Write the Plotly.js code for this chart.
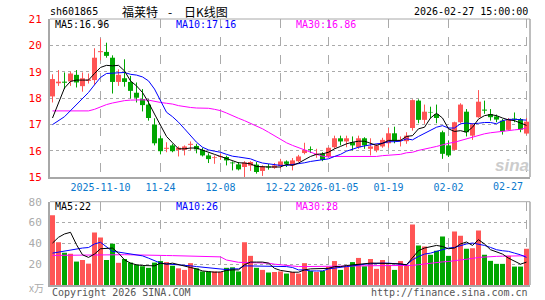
<!DOCTYPE html>
<html><head><meta charset="utf-8">
<script src="https://cdn.plot.ly/plotly-3.0.1.min.js"></script>
<style>body{margin:0;padding:0;background:#fff}#chart{width:545px;height:300px}</style>
</head><body><div id="chart"></div>
<script>
const dates = ['2025-10-29','2025-10-30','2025-10-31','2025-11-03','2025-11-04','2025-11-05','2025-11-06','2025-11-07','2025-11-10','2025-11-11',
'2025-11-12','2025-11-13','2025-11-14','2025-11-17','2025-11-18','2025-11-19','2025-11-20','2025-11-21','2025-11-24','2025-11-25',
'2025-11-26','2025-11-27','2025-11-28','2025-12-01','2025-12-02','2025-12-03','2025-12-04','2025-12-05','2025-12-08','2025-12-09',
'2025-12-10','2025-12-11','2025-12-12','2025-12-15','2025-12-16','2025-12-17','2025-12-18','2025-12-19','2025-12-22','2025-12-23',
'2025-12-24','2025-12-25','2025-12-26','2025-12-29','2025-12-30','2025-12-31','2026-01-05','2026-01-06','2026-01-07','2026-01-08',
'2026-01-09','2026-01-12','2026-01-13','2026-01-14','2026-01-15','2026-01-16','2026-01-19','2026-01-20','2026-01-21','2026-01-22',
'2026-01-23','2026-01-26','2026-01-27','2026-01-28','2026-01-29','2026-01-30','2026-02-02','2026-02-03','2026-02-04','2026-02-05',
'2026-02-06','2026-02-09','2026-02-10','2026-02-11','2026-02-12','2026-02-13','2026-02-24','2026-02-25','2026-02-26','2026-02-27'];

const open = [18.06,18.56,18.62,18.63,18.88,18.45,18.65,18.68,19.74,19.75,
19.53,18.61,18.75,18.61,18.20,17.96,17.75,16.99,16.47,16.07,
16.20,16.03,16.03,16.22,16.18,16.03,15.82,15.72,15.76,15.76,
15.55,15.48,15.38,15.43,15.47,15.23,15.40,15.35,15.42,15.59,
15.44,15.60,15.91,16.06,15.84,15.88,15.78,16.13,16.47,16.35,
16.32,16.13,16.47,16.07,16.01,16.16,16.28,16.66,16.37,16.36,
16.86,17.90,17.17,17.47,17.39,16.70,16.20,16.03,17.08,17.48,
16.57,17.27,17.56,17.39,17.30,17.14,16.79,17.22,17.20,16.65];
const high = [18.90,19.06,18.97,19.00,19.06,18.97,18.93,19.89,20.26,20.10,
19.62,19.09,19.47,18.84,18.59,18.34,17.96,17.23,16.57,16.32,
16.26,16.16,16.20,16.35,16.26,16.11,15.90,15.82,15.88,15.81,
15.59,15.57,15.60,15.60,15.57,15.44,15.50,15.53,15.69,15.63,
15.72,15.84,16.30,16.16,16.07,15.94,16.13,16.57,16.57,16.57,
16.54,16.57,16.51,16.47,16.26,16.49,16.86,16.91,16.54,16.70,
17.95,17.95,17.75,17.67,17.75,16.76,16.39,17.10,17.80,17.58,
17.04,18.30,17.90,17.58,17.37,17.20,17.24,17.45,17.24,17.24];
const low = [17.83,18.46,18.34,18.46,18.40,18.24,18.55,18.49,19.43,19.53,
18.17,18.46,18.43,17.98,17.83,17.49,17.14,16.20,15.86,15.94,
15.94,15.78,15.82,16.01,15.90,15.78,15.53,15.50,15.65,15.44,
15.25,15.25,15.00,15.23,15.13,15.04,15.28,15.31,15.32,15.38,
15.25,15.57,15.86,15.91,15.73,15.60,15.73,16.07,16.20,16.13,
16.01,16.07,16.07,15.82,15.94,16.11,16.11,16.28,16.16,16.26,
16.76,17.04,17.02,17.24,17.04,15.69,15.76,16.01,17.04,16.54,
16.41,17.25,17.40,17.14,17.08,16.61,16.76,17.08,16.70,16.61];
const close = [18.72,18.62,18.58,18.93,18.59,18.75,18.70,19.53,19.78,19.60,
18.61,18.88,18.61,18.27,18.01,17.73,17.24,16.28,15.98,16.11,
15.98,16.11,16.16,16.26,16.05,15.82,15.68,15.75,15.79,15.63,
15.52,15.29,15.55,15.57,15.19,15.40,15.36,15.44,15.59,15.50,
15.63,15.78,16.03,16.03,15.88,15.65,16.11,16.47,16.35,16.47,
16.20,16.47,16.20,16.16,16.20,16.41,16.66,16.39,16.41,16.57,
17.92,17.17,17.48,17.45,17.24,15.88,15.82,17.08,17.75,16.70,
16.99,17.86,17.52,17.27,17.18,16.74,17.19,17.19,16.80,17.10];
const volume = [67,41,31,30,22.5,24,20.5,50.5,45.5,24,
39.5,21.3,25,21.5,19.5,18,16.5,21.5,23,22,
18.5,16,14.5,21,16,13,13,13,12.5,16.5,
17,13,41,28,16.5,14.5,12,12.5,13,11,
12.5,11,21,13.5,12.5,13.5,17.5,23,14.5,18,
22,26,18,25,15.5,24,19.5,14.5,23,19.5,
58,38,37,29,33,46.5,28,51.3,47.4,34.8,
35.2,52.3,29,23.2,20.3,20.3,28,17.7,17.7,34.8];
const ma5 = [17.24,17.83,18.38,18.63,18.68,18.68,18.68,18.93,19.16,19.24,
19.22,19.24,19.03,18.65,18.46,18.21,17.83,17.39,16.95,16.54,
16.30,16.07,16.07,16.10,16.10,16.03,15.94,15.86,15.78,15.69,
15.60,15.54,15.53,15.50,15.40,15.38,15.38,15.38,15.38,15.48,
15.44,15.53,15.65,15.78,15.86,15.88,15.94,16.07,16.16,16.26,
16.32,16.36,16.36,16.28,16.20,16.28,16.39,16.39,16.39,16.54,
16.57,16.83,16.89,17.24,17.42,17.24,16.83,16.73,16.76,16.70,
16.89,17.20,17.33,17.37,17.33,17.24,17.17,17.14,17.04,16.96];
const ma10 = [16.99,17.14,17.29,17.52,17.75,17.96,18.21,18.50,18.78,18.93,
18.94,18.95,18.97,18.90,18.87,18.80,18.65,18.34,17.90,17.46,
17.29,17.08,16.83,16.57,16.32,16.13,16.03,15.98,15.94,15.86,
15.79,15.76,15.73,15.69,15.60,15.53,15.50,15.47,15.44,15.44,
15.47,15.50,15.54,15.59,15.63,15.65,15.69,15.78,15.86,15.98,
16.07,16.13,16.18,16.23,16.26,16.28,16.34,16.34,16.36,16.45,
16.41,16.54,16.66,16.76,16.89,16.95,16.86,16.86,17.02,17.05,
17.02,17.04,17.07,17.07,17.02,17.14,17.19,17.19,17.17,17.16];
const ma30 = [17.51,17.51,17.51,17.51,17.51,17.51,17.51,17.57,17.67,17.75,
17.81,17.86,17.90,17.92,17.93,17.93,17.92,17.87,17.83,17.80,
17.77,17.71,17.67,17.64,17.62,17.62,17.61,17.57,17.52,17.43,
17.32,17.23,17.14,17.04,16.95,16.83,16.70,16.57,16.42,16.30,
16.20,16.11,16.01,15.92,15.86,15.79,15.76,15.78,15.78,15.78,
15.78,15.78,15.78,15.78,15.78,15.81,15.83,15.86,15.86,15.92,
15.94,16.01,16.07,16.11,16.16,16.23,16.28,16.32,16.39,16.45,
16.51,16.57,16.64,16.68,16.70,16.74,16.76,16.79,16.81,16.86];
const vma5 = [40.3,45.8,49,50.6,38.7,29,26.5,29.7,34.8,35.5,
35.5,30.6,24.2,21,19.4,18.7,18.4,18.4,21,20,
21,19.4,17.7,16.8,15.5,13.5,12.9,12.3,12.5,14,
14.5,14.5,19.5,22,22,22,21,16,14,13,
12.3,12.3,14.5,15.5,15.5,15.5,16,17.7,17.7,18.7,
19.4,20,20.3,21,21,21,21,20.3,20.3,19.4,
26.5,33,35.5,37,38,37,34.8,35.5,39.4,41.3,
38,43.5,39.4,33.9,31.6,29.7,25.8,22.6,20,22];
const vma10 = [30.6,31.6,33,33.9,34.5,35.5,36,39.4,41,37,
32.3,31.6,30.6,29.7,29,28,25.8,23.5,21,20.3,
20,19.4,18.7,18.4,17.7,17.1,16.1,15.5,15.2,14.8,
15.5,15.5,18.4,18.4,18.4,18.4,18.4,18.4,17.7,17.7,
16.8,14.5,14.5,13.5,13.5,13.5,15.5,16,16.8,17.7,
18.4,19.4,20,20.3,21,21,21,20.3,20,19.4,
24.2,27.4,29.7,30.6,32.3,33.9,35.5,36.1,38,39.4,
40.3,39.4,38,36.1,33.9,32.9,32.3,30.6,29,26.5];
const vma30 = [28.4,28.5,28.6,28.7,28.8,28.9,29.0,29.0,29.1,29.2,
29.2,29.2,29.1,29.0,29.0,28.9,28.8,28.6,28.4,28.3,
28.2,28.0,27.9,27.8,27.7,27.6,27.5,27.4,27.0,24.0,
22.6,21.8,21.6,21.6,21.6,21.5,21.0,20.0,19.4,18.2,
17.8,17.7,17.7,17.7,17.7,17.8,17.9,18.0,18.1,18.2,
18.3,18.4,18.4,18.5,18.5,18.6,18.6,18.7,18.7,18.8,
18.8,19.5,20.3,21.0,21.5,22.2,22.6,23.2,23.8,24.5,
25.5,26.5,27.0,27.3,27.5,27.7,27.8,27.9,28.0,28.1];

const tickDates = ['2025-11-10','2025-11-24','2025-12-08','2025-12-22','2026-01-05','2026-01-19','2026-02-02','2026-02-27'];
const tickLabels = ['2025-11-10','11-24','12-08','12-22','2026-01-05','01-19','02-02','02-27'];
const priceTicks = [15,16,17,18,19,20,21];
const volTicks = [20,40,60,80];

const RED = '#ff5555', GREEN = '#00a600';
const MONO = 'DejaVu Sans Mono, monospace';
const TICKBLUE = '#0a78cc';

const isUp = close.map((c, i) => c >= open[i]);
const bodyColors = isUp.map(u => u ? RED : GREEN);

const upX = [], upY = [], dnX = [], dnY = [];
dates.forEach((d, i) => {
  if (isUp[i]) { upX.push(d, d, null); upY.push(low[i], high[i], null); }
  else { dnX.push(d, d, null); dnY.push(low[i], high[i], null); }
});

const traces = [
  {type:'bar', x:dates, base:open, y:close.map((c,i)=>c-open[i]), xaxis:'x', yaxis:'y',
   marker:{color:bodyColors, line:{width:0}}},
  {type:'scatter', mode:'lines', x:upX, y:upY, xaxis:'x', yaxis:'y', line:{color:RED, width:1}, hoverinfo:'skip'},
  {type:'scatter', mode:'lines', x:dnX, y:dnY, xaxis:'x', yaxis:'y', line:{color:GREEN, width:1}, hoverinfo:'skip'},
  {type:'scatter', mode:'lines', x:dates, y:ma30, xaxis:'x', yaxis:'y', line:{color:'#ff00ff', width:1}},
  {type:'scatter', mode:'lines', x:dates, y:ma10, xaxis:'x', yaxis:'y', line:{color:'#0000ff', width:1}},
  {type:'scatter', mode:'lines', x:dates, y:ma5, xaxis:'x', yaxis:'y', line:{color:'#000000', width:1}},
  {type:'bar', x:dates, y:volume, xaxis:'x2', yaxis:'y2', marker:{color:bodyColors, line:{width:0}}},
  {type:'scatter', mode:'lines', x:dates, y:vma30, xaxis:'x2', yaxis:'y2', line:{color:'#ff00ff', width:1}},
  {type:'scatter', mode:'lines', x:dates, y:vma10, xaxis:'x2', yaxis:'y2', line:{color:'#0000ff', width:1}},
  {type:'scatter', mode:'lines', x:dates, y:vma5, xaxis:'x2', yaxis:'y2', line:{color:'#000000', width:1}}
];

const W = 545, H = 300, ML = 50, MR = 15, MT = 19, MB = 15;
const PW = W - ML - MR, PH = H - MT - MB;
const px = x => (x - ML) / PW;
const py = y => (H - MB - y) / PH;

function ann(text, x, y, xanchor, color, size, family) {
  return {text:text, xref:'paper', yref:'paper', x:px(x), y:py(y), xanchor:xanchor, yanchor:'middle',
    showarrow:false, font:{family:family || MONO, size:size || 10, color:color || '#000'}};
}

const FRAME = '#a8a8a8';
const gridX = {showgrid:true, gridcolor:'#aaaaaa', griddash:'dash', gridwidth:1, showline:true, mirror:false,
  linecolor:FRAME, linewidth:2, zeroline:false, ticks:'', fixedrange:true,
  categoryorder:'array', categoryarray:dates};
const rng = [-0.4167, 79.5833];
const shownLabels = tickLabels.map((t, i) => i === tickLabels.length - 1 ? '' : t);

const pTop = 1, pBot = py(177), vTop = py(201.7);

const layout = {
  width:W, height:H, margin:{l:ML, r:MR, t:MT, b:MB, pad:0},
  paper_bgcolor:'#ffffff', plot_bgcolor:'#ffffff', showlegend:false, hovermode:false,
  barmode:'overlay', bargap:0.17,
  xaxis:Object.assign({}, gridX, {type:'category', domain:[0,1], anchor:'y', range:rng,
    tickvals:tickDates, ticktext:shownLabels, tickangle:0, tickfont:{family:MONO, size:10, color:TICKBLUE}, ticklen:2}),
  yaxis:{domain:[pBot, pTop], range:[15,21], tickvals:priceTicks, showgrid:true, gridcolor:'#aaaaaa', griddash:'dot',
    showline:true, mirror:false, linecolor:FRAME, linewidth:2, zeroline:false,
    ticks:'outside', ticklen:4, tickcolor:'rgba(0,0,0,0)', tickfont:{family:MONO, size:11, color:'#ff0000'}},
  xaxis2:Object.assign({}, gridX, {type:'category', domain:[0,1], anchor:'y2', matches:'x', range:rng,
    tickvals:tickDates, showticklabels:false}),
  yaxis2:{domain:[0, vTop], range:[0,80], tickvals:volTicks, showgrid:true, gridcolor:'#aaaaaa', griddash:'dot',
    showline:true, mirror:false, linecolor:FRAME, linewidth:2, zeroline:false,
    ticks:'outside', ticklen:4, tickcolor:'rgba(0,0,0,0)', tickfont:{family:MONO, size:11, color:'#aaaaaa'}},
  shapes:[
    {type:'line', xref:'paper', yref:'paper', x0:0, x1:1, y0:pTop, y1:pTop, line:{color:FRAME, width:1}},
    {type:'line', xref:'paper', yref:'paper', x0:1, x1:1, y0:pBot, y1:pTop, line:{color:FRAME, width:1.5}},
    {type:'line', xref:'paper', yref:'paper', x0:0, x1:1, y0:vTop, y1:vTop, line:{color:FRAME, width:1}},
    {type:'line', xref:'paper', yref:'paper', x0:1, x1:1, y0:0, y1:vTop, line:{color:FRAME, width:1.5}}
  ],
  annotations:[
    ann('sh601865', 48, 12, 'left', '#000', 10),
    ann('福莱特', 120, 11, 'left', '#000', 12, 'Noto Sans CJK SC'),
    ann('-', 169.5, 11, 'center', '#000', 12, 'Noto Sans CJK SC'),
    ann('日K线图', 182, 11, 'left', '#000', 12, 'Noto Sans CJK SC'),
    ann('2026-02-27 15:00:00', 530, 12, 'right', '#000', 10),
    ann('MA5:16.96', 53, 24.5, 'left', '#000000', 10),
    ann('MA10:17.16', 174, 24.5, 'left', '#0000ff', 10),
    ann('MA30:16.86', 294, 24.5, 'left', '#ff00ff', 10),
    ann('MA5:22', 53, 206.5, 'left', '#000000', 10),
    ann('MA10:26', 174, 206.5, 'left', '#0000ff', 10),
    ann('MA30:28', 294, 206.5, 'left', '#ff00ff', 10),
    ann(tickLabels[tickLabels.length - 1], 525, 186, 'right', TICKBLUE, 10),
    ann('x万', 36, 287, 'center', '#aaaaaa', 10, 'Noto Sans CJK SC'),
    ann('Copyright 2026 SINA.COM', 50, 292.5, 'left', '#555555', 10),
    ann('http://finance.sina.com.cn', 530, 292.5, 'right', '#555555', 10),
    ann('<b><i>sina</i></b>', 512, 166, 'center', '#cccccc', 17, 'Liberation Sans')
  ]
};

Plotly.newPlot('chart', traces, layout, {staticPlot:true, displayModeBar:false});
</script>
</body></html>
